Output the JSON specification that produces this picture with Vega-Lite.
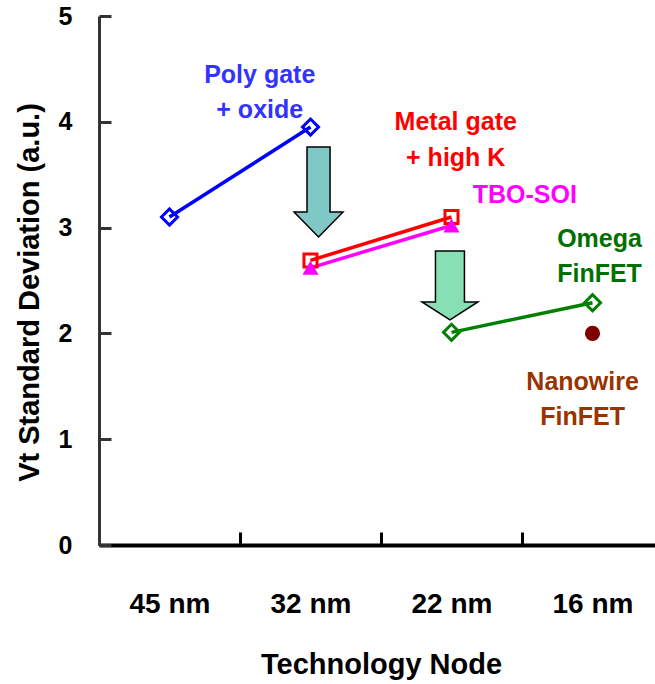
{
  "$schema": "https://vega.github.io/schema/vega-lite/v6.json",
  "width": 556,
  "height": 529,
  "autosize": {"type": "none"},
  "padding": {"left": 99, "top": 16, "right": 0, "bottom": 139},
  "background": "white",
  "config": {"view": {"stroke": null}, "font": "Liberation Sans"},
  "datasets": {
    "main": [
      {"node": "45 nm", "series": "Poly", "v": 3.1},
      {"node": "32 nm", "series": "Poly", "v": 3.95},
      {"node": "32 nm", "series": "Metal", "v": 2.69},
      {"node": "22 nm", "series": "Metal", "v": 3.1},
      {"node": "32 nm", "series": "TBO", "v": 2.62},
      {"node": "22 nm", "series": "TBO", "v": 3.02},
      {"node": "22 nm", "series": "Omega", "v": 2.01},
      {"node": "16 nm", "series": "Omega", "v": 2.29},
      {"node": "16 nm", "series": "Nanowire", "v": 2.0}
    ],
    "labels": [
      {"label": "Poly gate", "series": "Poly", "xq": 1.14, "v": 4.37},
      {"label": "+ oxide", "series": "Poly", "xq": 1.14, "v": 4.04},
      {"label": "Metal gate", "series": "Metal", "xq": 2.53, "v": 3.92},
      {"label": "+ high K", "series": "Metal", "xq": 2.53, "v": 3.58},
      {"label": "TBO-SOI", "series": "TBO", "xq": 3.02, "v": 3.23},
      {"label": "Omega", "series": "Omega", "xq": 3.55, "v": 2.82},
      {"label": "FinFET", "series": "Omega", "xq": 3.55, "v": 2.49},
      {"label": "Nanowire", "series": "Nanowire", "xq": 3.43, "v": 1.465},
      {"label": "FinFET", "series": "Nanowire", "xq": 3.43, "v": 1.134}
    ],
    "arrows": [
      {"kind": "a1", "xq": 1.557, "v": 3.337},
      {"kind": "a2", "xq": 2.489, "v": 2.453}
    ]
  },
  "layer": [
    {
      "encoding": {
        "x": {
          "field": "node", "type": "nominal",
          "sort": ["45 nm", "32 nm", "22 nm", "16 nm"],
          "scale": {"domain": ["45 nm", "32 nm", "22 nm", "16 nm"], "range": [0, 564], "paddingInner": 0, "paddingOuter": 0},
          "axis": {
            "title": "Technology Node",
            "tickBand": "extent",
            "tickSize": -13, "tickWidth": 3, "tickColor": "black",
            "domainColor": "black", "domainWidth": 4,
            "labelFont": "Liberation Sans", "labelFontWeight": "bold", "labelFontSize": 28, "labelColor": "black",
            "labelAngle": 0, "labelPadding": 58, "labelBaseline": "top",
            "titleFont": "Liberation Sans", "titleFontWeight": "bold", "titleFontSize": 29, "titleColor": "black",
            "titleY": 128, "titleBaseline": "alphabetic", "titleX": 282, "titleAlign": "center"
          }
        },
        "y": {
          "field": "v", "type": "quantitative",
          "scale": {"domain": [0, 5], "nice": false, "zero": true},
          "axis": {
            "values": [0, 1, 2, 3, 4, 5],
            "format": "d",
            "grid": false,
            "title": "Vt Standard Deviation (a.u.)",
            "tickSize": -12, "tickWidth": 3, "tickColor": "#333333",
            "domainColor": "#333333", "domainWidth": 3,
            "labelFont": "Liberation Sans", "labelFontWeight": "bold", "labelFontSize": 25, "labelColor": "black",
            "labelPadding": 39,
            "titleFont": "Liberation Sans", "titleFontWeight": "bold", "titleFontSize": 29, "titleColor": "black",
            "titleX": -61, "titleY": 276, "titleBaseline": "alphabetic", "titleAlign": "center", "titleAngle": 270
          }
        }
      },
      "layer": [
        {
          "data": {"values": [{}]},
          "mark": {"type": "rule", "stroke": "#333333", "strokeWidth": 3},
          "encoding": {"y": {"datum": 5}, "x": null}
        },
        {
          "data": {"name": "main"},
          "transform": [{"filter": "datum.series !== 'Nanowire'"}],
          "mark": {"type": "line", "strokeWidth": 3.5},
          "encoding": {
            "stroke": {"field": "series", "type": "nominal", "legend": null,
              "scale": {"domain": ["Poly", "Metal", "TBO", "Omega", "Nanowire"], "range": ["#0000ff", "#ff0000", "#ff00ff", "#008000", "#800000"]}},
            "detail": {"field": "series"}
          }
        }
      ]
    },
    {
      "encoding": {
        "x": {"field": "xq", "type": "quantitative", "axis": null, "scale": {"domain": [0, 4], "range": [0, 564], "nice": false, "zero": false}},
        "y": {"field": "v", "type": "quantitative", "scale": {"domain": [0, 5], "nice": false, "zero": true}}
      },
      "layer": [
        {
          "data": {"name": "arrows"},
          "transform": [{"filter": "datum.kind === 'a1'"}],
          "mark": {"type": "point", "filled": true, "opacity": 1, "fill": "#80c8c6", "stroke": "black", "strokeWidth": 1.5, "size": 8100,
            "shape": "M -0.256 -1 L 0.256 -1 L 0.256 0.444 L 0.544 0.444 L 0 1 L -0.544 0.444 L -0.256 0.444 Z"}
        },
        {
          "data": {"name": "arrows"},
          "transform": [{"filter": "datum.kind === 'a2'"}],
          "mark": {"type": "point", "filled": true, "opacity": 1, "fill": "#88dfb4", "stroke": "black", "strokeWidth": 1.5, "size": 4761,
            "shape": "M -0.42 -1 L 0.42 -1 L 0.42 0.478 L 0.81 0.478 L 0 1 L -0.81 0.478 L -0.42 0.478 Z"}
        },
        {
          "data": {"name": "labels"},
          "mark": {"type": "text", "font": "Liberation Sans", "fontWeight": "bold", "fontSize": 25, "baseline": "alphabetic", "align": "center"},
          "encoding": {
            "text": {"field": "label"},
            "fill": {"field": "series", "type": "nominal", "legend": null,
              "scale": {"domain": ["Poly", "Metal", "TBO", "Omega", "Nanowire"], "range": ["#3333ff", "#ff0000", "#ff00ff", "#007000", "#993300"]}}
          }
        }
      ]
    },
    {
      "data": {"name": "main"},
      "encoding": {
        "x": {"field": "node", "type": "nominal", "axis": null,
          "scale": {"domain": ["45 nm", "32 nm", "22 nm", "16 nm"], "range": [0, 564], "paddingInner": 0, "paddingOuter": 0}},
        "y": {"field": "v", "type": "quantitative", "scale": {"domain": [0, 5], "nice": false, "zero": true}}
      },
      "layer": [
        {
          "transform": [{"filter": "datum.series === 'Poly' || datum.series === 'Omega'"}],
          "mark": {"type": "point", "shape": "diamond", "filled": false, "opacity": 1, "strokeWidth": 3, "size": 260},
          "encoding": {"stroke": {"field": "series", "type": "nominal", "legend": null}}
        },
        {
          "transform": [{"filter": "datum.series === 'Metal'"}],
          "mark": {"type": "point", "shape": "square", "filled": false, "opacity": 1, "strokeWidth": 3, "size": 170, "stroke": "#ff0000"}
        },
        {
          "transform": [{"filter": "datum.series === 'TBO'"}],
          "mark": {"type": "point", "shape": "triangle-up", "filled": true, "opacity": 1, "size": 260, "color": "#ff00ff"}
        },
        {
          "transform": [{"filter": "datum.series === 'Nanowire'"}],
          "mark": {"type": "point", "shape": "circle", "filled": true, "opacity": 1, "size": 230, "color": "#800000"}
        }
      ]
    }
  ],
  "resolve": {"scale": {"x": "independent"}}
}
